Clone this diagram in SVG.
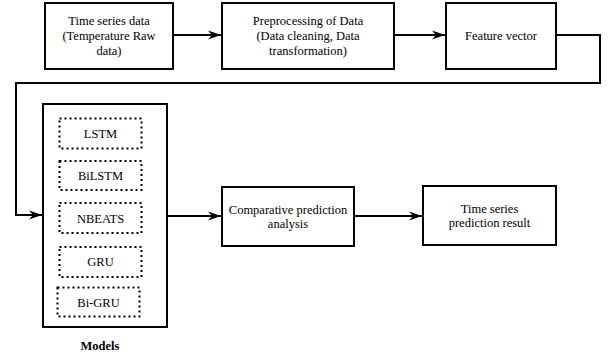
<svg xmlns="http://www.w3.org/2000/svg" width="610" height="356" viewBox="0 0 610 356">
<style>
.box{fill:#fff;stroke:#000;stroke-width:2}
.dot{fill:none;stroke:#000;stroke-width:2;stroke-dasharray:2 3}
.t{font-family:"Liberation Serif","Times New Roman",serif;font-size:12.5px;fill:#000;text-anchor:middle}
.b{font-weight:bold}
.c{fill:none;stroke:#000;stroke-width:2}
</style>
<defs>
<marker id="arr" markerWidth="14" markerHeight="10" refX="13" refY="5" orient="auto" markerUnits="userSpaceOnUse">
<path d="M0,0.5 L13,5 L0,9.5 L4,5 Z" fill="#000"/>
</marker>
</defs>
<rect width="610" height="356" fill="#fff"/>
<g id="connectors">
<line class="c" x1="173" y1="35" x2="221" y2="35" marker-end="url(#arr)"/>
<line class="c" x1="394" y1="35" x2="445" y2="35" marker-end="url(#arr)"/>
<polyline class="c" points="556,35 600,35 600,83 16,83 16,215 42,215" marker-end="url(#arr)"/>
<line class="c" x1="167" y1="216" x2="221" y2="216" marker-end="url(#arr)"/>
<line class="c" x1="354" y1="216" x2="422" y2="216" marker-end="url(#arr)"/>
</g>
<g id="n1"><rect class="box" x="45" y="3" width="128" height="66"/>
<text class="t" x="109" y="25">Time series data</text>
<text class="t" x="109" y="40">(Temperature Raw</text>
<text class="t" x="109" y="55">data)</text></g>
<g id="n2"><rect class="box" x="222" y="3" width="172" height="66"/>
<text class="t" x="308" y="25">Preprocessing of Data</text>
<text class="t" x="308" y="40">(Data cleaning, Data</text>
<text class="t" x="308" y="55">transformation)</text></g>
<g id="n3"><rect class="box" x="446" y="3" width="110" height="66"/>
<text class="t" x="501" y="39.5">Feature vector</text></g>
<g id="models"><rect class="box" x="43" y="104" width="124" height="223"/>
<text class="t b" x="100" y="349.5">Models</text></g>
<g id="lstm"><rect class="dot" x="59.5" y="118.5" width="82" height="30"/>
<text class="t" x="100.5" y="137.8">LSTM</text></g>
<g id="bilstm"><rect class="dot" x="59.5" y="161" width="82" height="29"/>
<text class="t" x="100.5" y="180">BiLSTM</text></g>
<g id="nbeats"><rect class="dot" x="59.5" y="203" width="82" height="30"/>
<text class="t" x="100.5" y="222.5">NBEATS</text></g>
<g id="gru"><rect class="dot" x="59.5" y="247" width="82" height="30"/>
<text class="t" x="100.5" y="266">GRU</text></g>
<g id="bigru"><rect class="dot" x="57.5" y="287.5" width="82" height="29"/>
<text class="t" x="98.5" y="306.5">Bi-GRU</text></g>
<g id="n4"><rect class="box" x="222" y="187" width="132" height="59"/>
<text class="t" x="288" y="213.5">Comparative prediction</text>
<text class="t" x="288" y="227.5">analysis</text></g>
<g id="n5"><rect class="box" x="423" y="186" width="133" height="59"/>
<text class="t" x="489.5" y="213">Time series</text>
<text class="t" x="489.5" y="227">prediction result</text></g>
</svg>
